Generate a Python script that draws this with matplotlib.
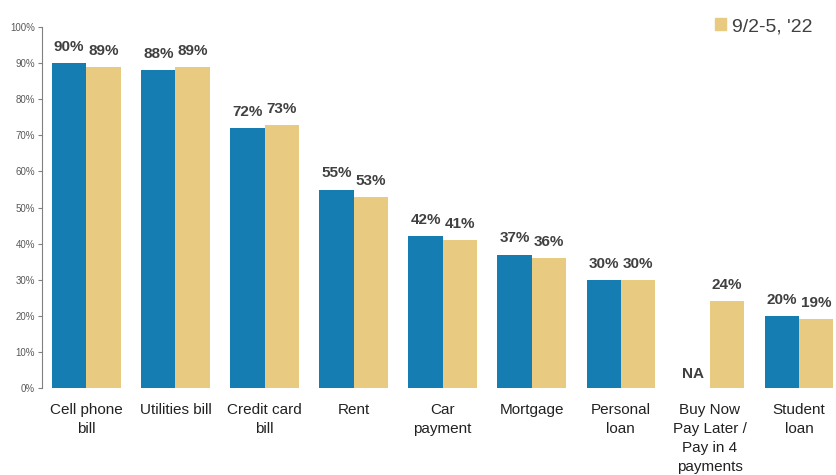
"""
Share paying each bill type, two survey waves side by side.
"""
import numpy as np
import matplotlib.pyplot as plt
from matplotlib.patches import Patch

plt.rcParams['font.family'] = ['Liberation Sans', 'DejaVu Sans']

categories = ['Cell phone\nbill', 'Utilities bill', 'Credit card\nbill', 'Rent',
              'Car\npayment', 'Mortgage', 'Personal\nloan',
              'Buy Now\nPay Later /\nPay in 4\npayments', 'Student\nloan']
earlier_wave = [90, 88, 72, 55, 42, 37, 30, np.nan, 20]
latest_wave = [89, 89, 73, 53, 41, 36, 30, 24, 19]
latest_label = "9/2-5, '22"
ytick_values = np.arange(0, 101, 10)

blue = '#157db1'
gold = '#e8ca80'

fig = plt.figure(figsize=(8.36, 4.75), dpi=100)
ax = fig.add_axes([0.050, 0.183, 0.959, 0.760])

x = np.arange(len(categories))
w = 0.385
b1 = ax.bar(x - w / 2, np.nan_to_num(earlier_wave), w, color=blue)
b2 = ax.bar(x + w / 2, latest_wave, w, color=gold)

# value labels over each bar, NA where the question was not asked
for xi, v in zip(x - w / 2, earlier_wave):
    if np.isnan(v):
        ax.text(xi, 2, 'NA', ha='center', va='bottom', fontsize=11,
                fontweight='bold', color='#404040')
    else:
        ax.annotate(f'{v:.0f}%', (xi, v), xytext=(0, 6.5), textcoords='offset points',
                    ha='center', va='bottom', fontsize=11, fontweight='bold',
                    color='#404040')
for xi, v in zip(x + w / 2, latest_wave):
    ax.annotate(f'{v:.0f}%', (xi, v), xytext=(0, 6.5), textcoords='offset points',
                ha='center', va='bottom', fontsize=11, fontweight='bold',
                color='#404040')

ax.set_xlim(-0.5, len(categories) - 0.5)
ax.set_ylim(0, 100)
ax.set_yticks(ytick_values)
ax.set_yticklabels([f'{v}%' for v in ytick_values], fontsize=7, color='#595959')
ax.set_xticks(x)
ax.set_xticklabels(categories, fontsize=11, color='#222222', linespacing=1.45, va='top')
ax.tick_params(axis='x', length=0, pad=11)
ax.tick_params(axis='y', length=3, color='#808080', pad=2)

for s in ['top', 'right', 'bottom']:
    ax.spines[s].set_visible(False)
ax.spines['left'].set_color('#808080')

fig.legend(handles=[Patch(color=gold, label=latest_label)], loc='center left',
           bbox_to_anchor=(0.834, 0.944), frameon=False, fontsize=14,
           handlelength=0.6, handleheight=0.6, handletextpad=0.3,
           labelcolor='#404040')

fig.savefig('out.png', dpi=100)
